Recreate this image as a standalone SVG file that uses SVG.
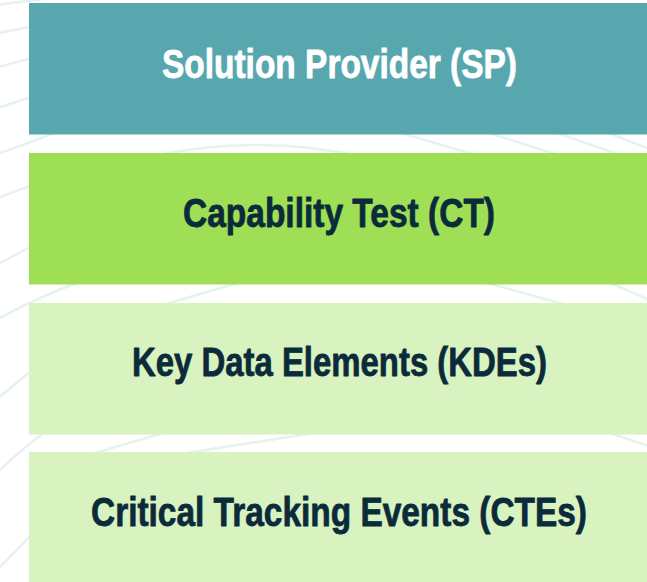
<svg xmlns="http://www.w3.org/2000/svg" width="647" height="582" viewBox="0 0 647 582">
  <style>
    .bg { fill: none; stroke: #E5F2EF; stroke-width: 2.5; stroke-linecap: round; }
    .box { stroke: none; }
    .lbl { font-family: "Liberation Sans Narrow", "Liberation Sans", Arial, sans-serif; font-weight: bold; font-size: 30.4px; text-anchor: middle; stroke-width: 0.6; stroke-linejoin: round; }
    .dark { fill: #0B2B3B; stroke: #0B2B3B; }
    .light { fill: #FFFFFF; stroke: #FFFFFF; }
  </style>
  <rect width="647" height="582" fill="#FFFFFF"/>
  <g id="background-lines">
    <path class="bg" d="M-2,5 Q15,2 40,0"/>
    <path class="bg" d="M-2,33 L40,25"/>
    <path class="bg" d="M-2,67 L40,56"/>
    <path class="bg" d="M-2,108 L40,94"/>
    <path class="bg" d="M-2,154 L60,131"/>
    <path class="bg" d="M-2,198 L40,182"/>
    <path class="bg" d="M-2,264 L40,242"/>
    <path class="bg" d="M-2,319 Q40,296 82,281"/>
    <path class="bg" d="M-2,398 L40,364"/>
    <path class="bg" d="M-2,472 Q20,450 48,430"/>
    <path class="bg" d="M-2,569 L40,526"/>
    <path class="bg" d="M145,158 Q256,132 370,158"/>
    <path class="bg" d="M398,132 L482,157"/>
    <path class="bg" d="M486,132 L564,157"/>
    <path class="bg" d="M554,132 L626,157"/>
    <path class="bg" d="M606,132 L652,150"/>
    <path class="bg" d="M244,281 L156,307"/>
    <path class="bg" d="M480,281 L574,307"/>
    <path class="bg" d="M606,281 L652,301"/>
    <path class="bg" d="M170,431 L78,458"/>
    <path class="bg" d="M326,431 L168,456"/>
    <path class="bg" d="M604,431 L652,447"/>
  </g>
  <g id="node-sp">
    <rect class="box" x="29" y="3" width="620" height="131.5" fill="#58A7AF"/>
    <text class="lbl light" transform="translate(339.5,77.5) scale(1,1.35)" x="0" y="0" textLength="355" lengthAdjust="spacingAndGlyphs">Solution Provider (SP)</text>
  </g>
  <g id="node-ct">
    <rect class="box" x="29" y="153" width="620" height="131.5" fill="#9EDF55"/>
    <text class="lbl dark" transform="translate(339,226.5) scale(1,1.35)" x="0" y="0" textLength="312" lengthAdjust="spacingAndGlyphs">Capability Test (CT)</text>
  </g>
  <g id="node-kde">
    <rect class="box" x="29" y="303" width="620" height="131.5" fill="#D8F2C0"/>
    <text class="lbl dark" transform="translate(339.5,376) scale(1,1.35)" x="0" y="0" textLength="415" lengthAdjust="spacingAndGlyphs">Key Data Elements (KDEs)</text>
  </g>
  <g id="node-cte">
    <rect class="box" x="29" y="452" width="620" height="132" fill="#D8F2C0"/>
    <text class="lbl dark" transform="translate(339,526) scale(1,1.35)" x="0" y="0" textLength="496" lengthAdjust="spacingAndGlyphs">Critical Tracking Events (CTEs)</text>
  </g>
  <g id="connectors"></g>
</svg>
